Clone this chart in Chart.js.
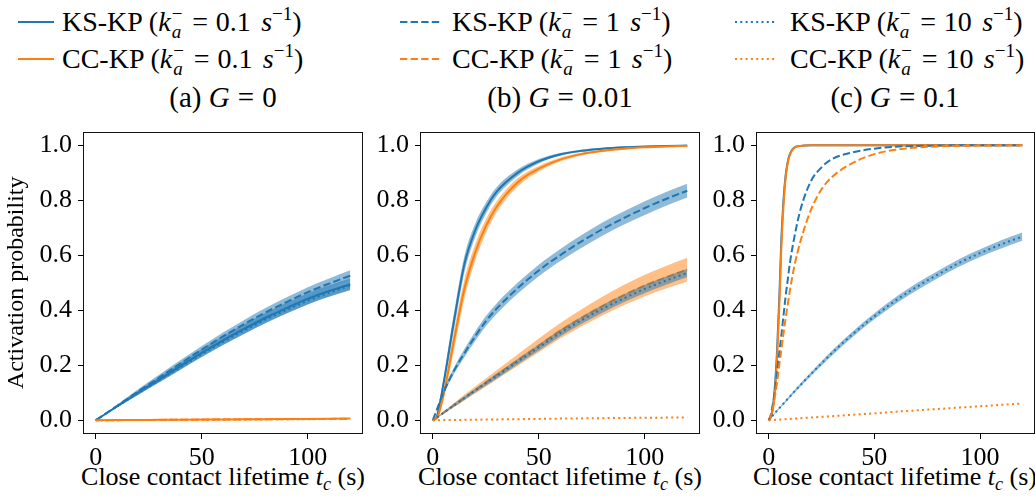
<!DOCTYPE html>
<html>
<head>
<meta charset="utf-8">
<script src="https://cdn.jsdelivr.net/npm/chart.js@4.4.1/dist/chart.umd.min.js"></script>
<style>
  body { margin: 0; width: 1035px; height: 497px; background: #fff; position: relative; overflow: hidden; font-family: 'Liberation Serif', serif; color: #000; }
  canvas { position: absolute; top: 110px; }
  .txt { position: absolute; white-space: nowrap; }
  .leg { font-size: 28px; line-height: 32px; }
  .sw { position: absolute; }
  .title { font-size: 29px; text-align: center; width: 320px; top: 81px; }
  .xlab { font-size: 26px; text-align: center; width: 340px; top: 462px; }
  .ss { display: inline-block; vertical-align: -0.38em; font-size: 0.68em; line-height: 0.95em; margin-left: 1px; margin-right: 2px; }
  .ss span { display: block; }
  .eq { margin: 0 0.28em; }
  .sp { margin-left: 0.12em; }
  sup { font-size: 0.68em; vertical-align: 0.55em; line-height: 0; }
  sub { font-size: 0.7em; vertical-align: -0.25em; line-height: 0; }
</style>
</head>
<body>

<svg class="sw" style="left:18px;top:20px" width="36" height="4"><line x1="0" y1="2" x2="36" y2="2" stroke="#1f77b4" stroke-width="2.2"/></svg>
<div class="txt leg" style="left:62px;top:5px">KS-KP (<i>k</i><span class="ss"><span>−</span><span><i>a</i></span></span><span class="eq">=</span>0.1 <i class="sp">s</i><sup>−1</sup>)</div>
<svg class="sw" style="left:18px;top:57px" width="36" height="4"><line x1="0" y1="2" x2="36" y2="2" stroke="#ff7f0e" stroke-width="2.2"/></svg>
<div class="txt leg" style="left:62px;top:42px">CC-KP (<i>k</i><span class="ss"><span>−</span><span><i>a</i></span></span><span class="eq">=</span>0.1 <i class="sp">s</i><sup>−1</sup>)</div>

<svg class="sw" style="left:400px;top:20px" width="40" height="4"><line x1="0" y1="2" x2="40" y2="2" stroke="#1f77b4" stroke-width="2.2" stroke-dasharray="7.4 3.2"/></svg>
<div class="txt leg" style="left:452px;top:5px">KS-KP (<i>k</i><span class="ss"><span>−</span><span><i>a</i></span></span><span class="eq">=</span>1 <i class="sp">s</i><sup>−1</sup>)</div>
<svg class="sw" style="left:400px;top:57px" width="40" height="4"><line x1="0" y1="2" x2="40" y2="2" stroke="#ff7f0e" stroke-width="2.2" stroke-dasharray="7.4 3.2"/></svg>
<div class="txt leg" style="left:452px;top:42px">CC-KP (<i>k</i><span class="ss"><span>−</span><span><i>a</i></span></span><span class="eq">=</span>1 <i class="sp">s</i><sup>−1</sup>)</div>

<svg class="sw" style="left:735px;top:20px" width="42" height="4"><line x1="0" y1="2" x2="42" y2="2" stroke="#1f77b4" stroke-width="2.2" stroke-dasharray="2 3.3"/></svg>
<div class="txt leg" style="left:790px;top:5px">KS-KP (<i>k</i><span class="ss"><span>−</span><span><i>a</i></span></span><span class="eq">=</span>10 <i class="sp">s</i><sup>−1</sup>)</div>
<svg class="sw" style="left:735px;top:57px" width="42" height="4"><line x1="0" y1="2" x2="42" y2="2" stroke="#ff7f0e" stroke-width="2.2" stroke-dasharray="2 3.3"/></svg>
<div class="txt leg" style="left:790px;top:42px">CC-KP (<i>k</i><span class="ss"><span>−</span><span><i>a</i></span></span><span class="eq">=</span>10 <i class="sp">s</i><sup>−1</sup>)</div>

<div class="txt title" style="left:63px">(a) <i>G</i><span class="eq">=</span>0</div>
<div class="txt title" style="left:400px">(b) <i>G</i><span class="eq">=</span>0.01</div>
<div class="txt title" style="left:735px">(c) <i>G</i><span class="eq">=</span>0.1</div>

<div class="txt xlab" style="left:53px">Close contact lifetime <i>t<sub>c</sub></i> (s)</div>
<div class="txt xlab" style="left:390px">Close contact lifetime <i>t<sub>c</sub></i> (s)</div>
<div class="txt xlab" style="left:725px">Close contact lifetime <i>t<sub>c</sub></i> (s)</div>

<canvas id="panelA" width="375" height="387" style="left:0px"></canvas>
<canvas id="panelB" width="367" height="387" style="left:345px"></canvas>
<canvas id="panelC" width="354" height="387" style="left:681px"></canvas>

<script>
const xTicks = [0, 50, 100];
const yTicks = [0, 0.2, 0.4, 0.6, 0.8, 1.0];

// (a) G = 0
const tA = [0, 10, 20, 30, 40, 50, 60, 70, 80, 90, 100, 110, 120];
const ksA_01 = [0, 0.05, 0.10, 0.148, 0.197, 0.245, 0.29, 0.332, 0.372, 0.408, 0.442, 0.47, 0.495];
const ksA_01_err = [0, 0.004, 0.008, 0.01, 0.012, 0.014, 0.016, 0.017, 0.018, 0.019, 0.02, 0.021, 0.022];
const ksA_1 = [0, 0.052, 0.105, 0.156, 0.207, 0.257, 0.305, 0.35, 0.392, 0.43, 0.466, 0.497, 0.526];
const ksA_1_err = [0, 0.004, 0.008, 0.01, 0.012, 0.013, 0.014, 0.015, 0.016, 0.017, 0.018, 0.019, 0.02];
const ksA_10 = [0, 0.05, 0.099, 0.146, 0.193, 0.24, 0.285, 0.326, 0.366, 0.401, 0.435, 0.464, 0.49];
const ksA_10_err = [0, 0.003, 0.006, 0.008, 0.009, 0.01, 0.011, 0.012, 0.013, 0.013, 0.014, 0.014, 0.015];
const ccA_01 = [0, 0.0005, 0.001, 0.0015, 0.002, 0.0025, 0.003, 0.0035, 0.004, 0.0045, 0.005, 0.0055, 0.006];
const ccA_1 = [0, 0.0004, 0.0009, 0.0013, 0.0018, 0.0022, 0.0027, 0.0031, 0.0036, 0.004, 0.0045, 0.0049, 0.0054];
const ccA_10 = [0, 0.0004, 0.0008, 0.0012, 0.0016, 0.002, 0.0024, 0.0028, 0.0032, 0.0036, 0.004, 0.0044, 0.0048];

// (b) G = 0.01
const tB = [0, 2, 5, 10, 15, 20, 25, 30, 40, 50, 60, 70, 80, 90, 100, 110, 120];
const ksB_01 = [0, 0.015, 0.13, 0.36, 0.57, 0.69, 0.77, 0.83, 0.9, 0.942, 0.967, 0.98, 0.988, 0.993, 0.996, 0.998, 0.999];
const ksB_01_err = [0, 0.005, 0.02, 0.03, 0.03, 0.025, 0.02, 0.017, 0.012, 0.008, 0.005, 0.004, 0.003, 0.002, 0.002, 0.001, 0.001];
const ccB_01 = [0, 0.008, 0.09, 0.29, 0.48, 0.61, 0.705, 0.775, 0.865, 0.915, 0.948, 0.968, 0.98, 0.988, 0.993, 0.996, 0.998];
const ccB_01_err = [0, 0.005, 0.02, 0.035, 0.035, 0.03, 0.025, 0.02, 0.015, 0.01, 0.007, 0.005, 0.004, 0.003, 0.002, 0.002, 0.001];
const ksB_1 = [0, 0.04, 0.1, 0.18, 0.245, 0.305, 0.36, 0.405, 0.48, 0.545, 0.6, 0.65, 0.695, 0.735, 0.772, 0.805, 0.835];
const ksB_1_err = [0, 0.003, 0.008, 0.012, 0.015, 0.017, 0.018, 0.019, 0.02, 0.021, 0.022, 0.023, 0.024, 0.024, 0.025, 0.025, 0.025];
const ccB_1 = [0, 0.01, 0.027, 0.055, 0.083, 0.11, 0.137, 0.164, 0.218, 0.272, 0.325, 0.372, 0.415, 0.455, 0.49, 0.52, 0.548];
const ccB_1_err = [0, 0.002, 0.005, 0.008, 0.011, 0.013, 0.015, 0.017, 0.021, 0.025, 0.028, 0.031, 0.034, 0.037, 0.039, 0.041, 0.043];
const ksB_10 = [0, 0.01, 0.027, 0.054, 0.081, 0.108, 0.134, 0.16, 0.213, 0.265, 0.317, 0.363, 0.405, 0.443, 0.478, 0.508, 0.536];
const ksB_10_err = [0, 0.001, 0.003, 0.005, 0.006, 0.007, 0.008, 0.009, 0.01, 0.011, 0.012, 0.013, 0.014, 0.014, 0.015, 0.015, 0.015];
const ccB_10 = [0, 0.0002, 0.0005, 0.001, 0.0015, 0.002, 0.0025, 0.003, 0.004, 0.005, 0.006, 0.0068, 0.0076, 0.0084, 0.009, 0.0096, 0.0102];

// (c) G = 0.1
const tC = [0, 1, 2, 3, 4, 5, 6, 7, 8, 9, 10, 12, 15, 20, 25, 30, 40, 50, 60, 70, 80, 90, 100, 110, 120];
const ksC_01 = [0, 0.012, 0.05, 0.13, 0.26, 0.44, 0.66, 0.8, 0.89, 0.94, 0.968, 0.991, 0.998, 1, 1, 1, 1, 1, 1, 1, 1, 1, 1, 1, 1];
const ccC_01 = [0, 0.01, 0.04, 0.11, 0.23, 0.41, 0.63, 0.78, 0.88, 0.935, 0.965, 0.99, 0.998, 1, 1, 1, 1, 1, 1, 1, 1, 1, 1, 1, 1];
const ksC_1 = [0, 0.02, 0.06, 0.11, 0.18, 0.245, 0.31, 0.38, 0.45, 0.51, 0.57, 0.66, 0.765, 0.87, 0.92, 0.95, 0.975, 0.988, 0.995, 0.998, 0.999, 1, 1, 1, 1];
const ccC_1 = [0, 0.015, 0.045, 0.09, 0.14, 0.2, 0.258, 0.315, 0.37, 0.42, 0.47, 0.555, 0.65, 0.765, 0.84, 0.885, 0.937, 0.968, 0.984, 0.992, 0.996, 0.998, 0.999, 1, 1];
const ksC_10 = [0, 0.0088, 0.0176, 0.0264, 0.035, 0.0436, 0.0522, 0.0607, 0.0692, 0.0776, 0.086, 0.103, 0.128, 0.168, 0.207, 0.245, 0.315, 0.378, 0.435, 0.485, 0.53, 0.572, 0.608, 0.64, 0.668];
const ksC_10_err = [0, 0.001, 0.002, 0.002, 0.003, 0.003, 0.003, 0.004, 0.004, 0.004, 0.005, 0.005, 0.006, 0.007, 0.008, 0.009, 0.01, 0.011, 0.012, 0.013, 0.013, 0.014, 0.014, 0.015, 0.015];
const ccC_10 = [0, 0.0005, 0.001, 0.0015, 0.002, 0.0025, 0.003, 0.0035, 0.004, 0.0045, 0.005, 0.006, 0.0075, 0.01, 0.0125, 0.015, 0.02, 0.025, 0.031, 0.036, 0.041, 0.046, 0.051, 0.056, 0.061];

const BLUE = '#1f77b4', ORANGE = '#ff7f0e';
const BAND = { [BLUE]: 'rgba(31,119,180,0.5)', [ORANGE]: 'rgba(255,127,14,0.5)' };
const SOLID = [], DASHED = [7.4, 3.2], DOTTED = [2, 3.3];
const FONT = "'Liberation Serif', serif";

function pts(t, y, off, sign) {
  return t.map((x, i) => ({ x: x, y: off ? y[i] + sign * off[i] : y[i] }));
}

function buildDatasets(t, list) {
  const ds = [];
  list.forEach(s => {
    if (s.err) {
      ds.push({ data: pts(t, s.y, s.err, -1), borderWidth: 0, borderColor: 'transparent', pointRadius: 0, fill: false, cubicInterpolationMode: 'monotone' });
      ds.push({ data: pts(t, s.y, s.err, 1), borderWidth: 0, borderColor: 'transparent', pointRadius: 0, fill: '-1', backgroundColor: BAND[s.color], cubicInterpolationMode: 'monotone' });
    }
    ds.push({ data: pts(t, s.y), borderColor: s.color, borderWidth: 2, borderDash: s.dash, borderCapStyle: 'butt', pointRadius: 0, fill: false, cubicInterpolationMode: 'monotone' });
  });
  // first dataset drawn first (bottom), like matplotlib
  ds.forEach((d, i) => d.order = ds.length - i);
  return ds;
}

const frame = {
  id: 'frame',
  afterDraw(chart) {
    const { ctx, chartArea: a } = chart;
    ctx.save();
    ctx.strokeStyle = '#111';
    ctx.lineWidth = 1;
    ctx.strokeRect(Math.round(a.left) + 0.5, Math.round(a.top) + 0.5, Math.round(a.right - a.left) - 1, Math.round(a.bottom - a.top) - 1);
    ctx.restore();
  }
};

function makePanel(id, t, list, yWidth, yTitle, padRight) {
  new Chart(document.getElementById(id), {
    type: 'line',
    data: { datasets: buildDatasets(t, list) },
    options: {
      responsive: false,
      animation: false,
      layout: { padding: { top: 14, right: padRight, left: 0, bottom: 0 } },
      plugins: { legend: { display: false }, tooltip: { enabled: false } },
      scales: {
        x: {
          type: 'linear', min: -6, max: 126,
          afterBuildTicks: s => { s.ticks = xTicks.map(v => ({ value: v })); },
          afterFit: s => { s.height = 63; },
          grid: { drawOnChartArea: false, drawTicks: true, tickLength: 5, color: '#000' },
          border: { display: false },
          ticks: { font: { family: FONT, size: 26 }, color: '#000', padding: 4, maxRotation: 0 }
        },
        y: {
          min: -0.05, max: 1.05,
          afterBuildTicks: s => { s.ticks = yTicks.map(v => ({ value: v })); },
          afterFit: s => { s.width = yWidth; },
          grid: { drawOnChartArea: false, drawTicks: true, tickLength: 5, color: '#000' },
          border: { display: false },
          title: { display: !!yTitle, text: yTitle || '', font: { family: FONT, size: 24 }, color: '#000', padding: { top: 2, bottom: 0 } },
          ticks: { font: { family: FONT, size: 26 }, color: '#000', padding: 6, callback: v => v.toFixed(1) }
        }
      }
    },
    plugins: [frame]
  });
}

makePanel('panelA', tA, [
  { y: ksA_01, err: ksA_01_err, color: BLUE, dash: SOLID },
  { y: ccA_01, color: ORANGE, dash: SOLID },
  { y: ksA_1, err: ksA_1_err, color: BLUE, dash: DASHED },
  { y: ccA_1, color: ORANGE, dash: DASHED },
  { y: ksA_10, err: ksA_10_err, color: BLUE, dash: DOTTED },
  { y: ccA_10, color: ORANGE, dash: DOTTED }
], 83, 'Activation probability', 12);

makePanel('panelB', tB, [
  { y: ksB_01, err: ksB_01_err, color: BLUE, dash: SOLID },
  { y: ccB_01, err: ccB_01_err, color: ORANGE, dash: SOLID },
  { y: ksB_1, err: ksB_1_err, color: BLUE, dash: DASHED },
  { y: ccB_1, err: ccB_1_err, color: ORANGE, dash: DASHED },
  { y: ksB_10, err: ksB_10_err, color: BLUE, dash: DOTTED },
  { y: ccB_10, color: ORANGE, dash: DOTTED }
], 75, null, 12);

makePanel('panelC', tC, [
  { y: ksC_01, color: BLUE, dash: SOLID },
  { y: ccC_01, color: ORANGE, dash: SOLID },
  { y: ksC_1, color: BLUE, dash: DASHED },
  { y: ccC_1, color: ORANGE, dash: DASHED },
  { y: ksC_10, err: ksC_10_err, color: BLUE, dash: DOTTED },
  { y: ccC_10, color: ORANGE, dash: DOTTED }
], 75, null, 0);
</script>
</body>
</html>
